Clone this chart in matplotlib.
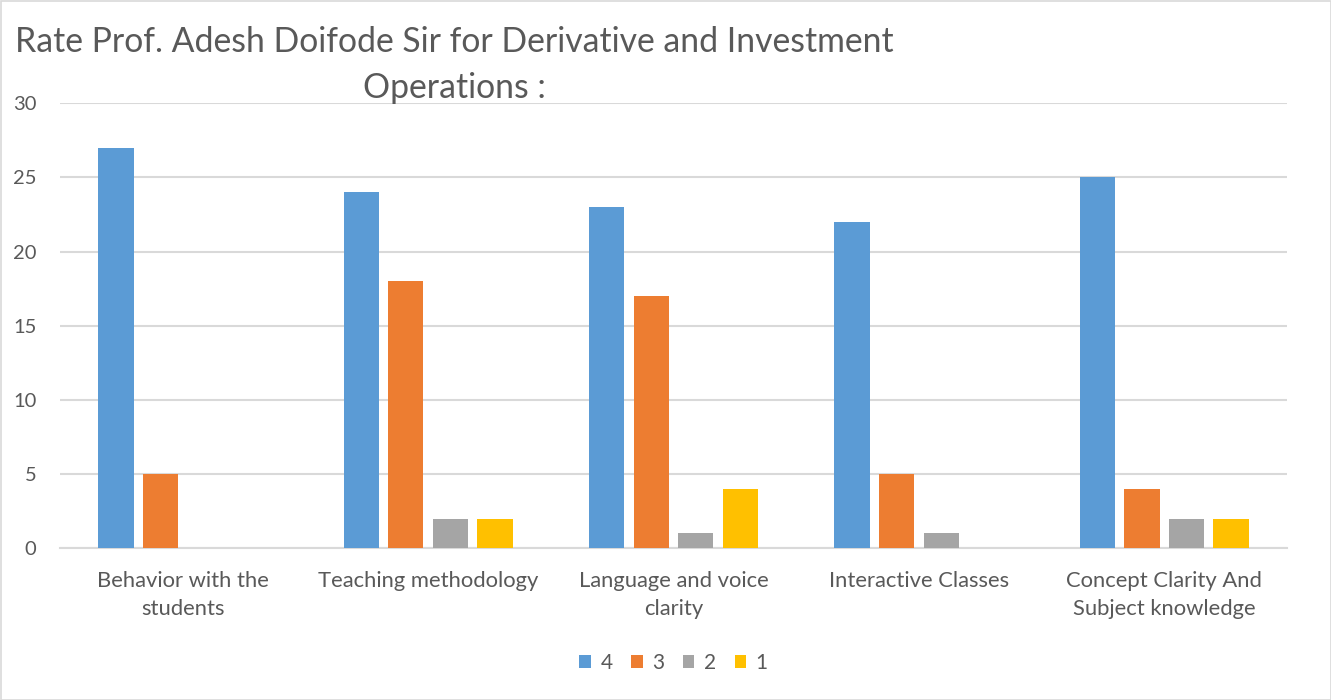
import matplotlib.pyplot as plt
import numpy as np

# data
categories = ['Behavior with the\nstudents', 'Teaching methodology', 'Language and voice\nclarity',
              'Interactive Classes', 'Concept Clarity And\nSubject knowledge']
series_names = ['4', '3', '2', '1']
rating_4 = [27, 24, 23, 22, 25]
rating_3 = [5, 18, 17, 5, 4]
rating_2 = [0, 2, 1, 1, 2]
rating_1 = [0, 2, 4, 0, 2]
colors = ['#5B9BD5', '#ED7D31', '#A5A5A5', '#FFC000']

plt.rcParams['font.family'] = ['Lato', 'DejaVu Sans']
text_col = '#595959'

fig = plt.figure(figsize=(13.31, 7.0), dpi=100)
ax = fig.add_axes([60 / 1331, 1 - 548.3 / 700, 1227 / 1331, 445 / 700])

x = np.arange(len(categories))
bw = 0.1437
step = 0.1815
for i, vals in enumerate([rating_4, rating_3, rating_2, rating_1]):
    offset = (i - 1.5) * step
    ax.bar(x + offset, vals, width=bw, color=colors[i], label=series_names[i], zorder=3)

ax.set_xlim(-0.5, len(categories) - 0.5)
ax.set_ylim(0, 30)
ax.set_yticks(range(0, 31, 5))
ax.yaxis.grid(True, color='#D9D9D9', linewidth=1.5, zorder=0)
ax.set_axisbelow(True)
for s in ['top', 'right', 'left']:
    ax.spines[s].set_visible(False)
ax.spines['bottom'].set_color('#D9D9D9')
ax.spines['bottom'].set_linewidth(1.5)
ax.tick_params(axis='both', length=0, colors=text_col)
ax.tick_params(axis='y', pad=17, labelsize=14.5)
ax.tick_params(axis='x', pad=16, labelsize=15.8)
ax.set_xticks(x)
ax.set_xticklabels(categories, linespacing=1.5)

# title in two centred lines, like the original
fig.text(454 / 1331, 1 - 52 / 700, 'Rate Prof. Adesh Doifode Sir for Derivative and Investment',
         ha='center', va='baseline', fontsize=24.3, color=text_col)
fig.text(454 / 1331, 1 - 98 / 700, 'Operations :',
         ha='center', va='baseline', fontsize=24.3, color=text_col)

ax.legend(loc='center', bbox_to_anchor=(0.5, (548.3 - 663) / 445), ncol=4, frameon=False,
          fontsize=15, labelcolor=text_col, handlelength=0.55, handleheight=0.55,
          handletextpad=0.45, columnspacing=0.9)

fig.patches.append(plt.Rectangle((0.5 / 1331, 0.5 / 700), 1 - 1 / 1331, 1 - 1 / 700,
                                 transform=fig.transFigure, fill=False,
                                 edgecolor='#D9D9D9', linewidth=1.2))

fig.savefig('out.png', dpi=100)
